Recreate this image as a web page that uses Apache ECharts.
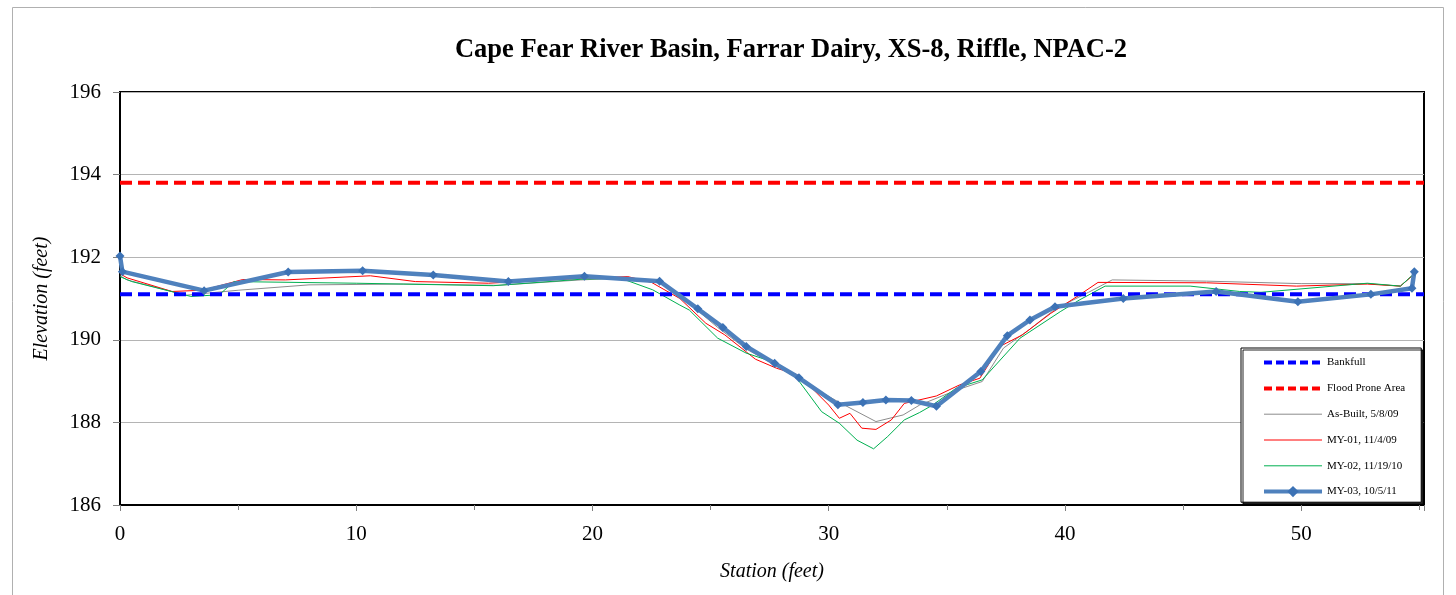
<!DOCTYPE html>
<html>
<head>
<meta charset="utf-8">
<script src="https://cdn.jsdelivr.net/npm/echarts@6/dist/echarts.min.js"></script>
<style>
html,body{margin:0;padding:0;background:#fff;}
#chart{width:1456px;height:595px;}
</style>
</head>
<body>
<div id="chart"></div>
<script>
const titleText = 'Cape Fear River Basin, Farrar Dairy, XS-8, Riffle, NPAC-2';
const xTickLabels = [0, 10, 20, 30, 40, 50];
const yTickLabels = [186, 188, 190, 192, 194, 196];

const bankfullStation = [0, 55.2];
const bankfullElev = [191.1, 191.1];

const floodStation = [0, 55.2];
const floodElev = [193.8, 193.8];

const asBuiltStation = [0, 0.3, 2.8, 5.0, 8.0, 12.0, 16.0, 19.5, 21.5, 22.8, 24.1, 25.3, 26.5, 27.7, 28.8, 30.4, 32.0, 33.15, 33.85, 35.4, 36.5, 37.4, 38.5, 39.6, 41.0, 42.0, 46.0, 50.0, 52.8, 54.2, 54.8];
const asBuiltElev = [191.55, 191.45, 191.08, 191.2, 191.33, 191.35, 191.32, 191.45, 191.5, 191.4, 190.88, 190.3, 189.78, 189.4, 189.02, 188.5, 188.02, 188.18, 188.42, 188.78, 188.99, 189.8, 190.25, 190.75, 191.15, 191.45, 191.42, 191.36, 191.36, 191.3, 191.6];

const my01Station = [0, 0.3, 2.2, 3.5, 5.2, 7.0, 10.6, 12.5, 15.6, 19.6, 21.5, 22.5, 23.7, 24.8, 25.6, 26.9, 27.8, 28.6, 28.8, 30.0, 30.45, 30.9, 31.4, 32.0, 32.65, 33.2, 34.56, 35.55, 36.4, 37.25, 38.2, 39.4, 40.6, 41.4, 46.0, 49.8, 52.8, 54.2, 54.8];
const my01Elev = [191.6, 191.5, 191.17, 191.2, 191.46, 191.45, 191.55, 191.41, 191.37, 191.49, 191.53, 191.39, 191.0, 190.4, 190.12, 189.53, 189.31, 189.17, 189.11, 188.42, 188.1, 188.22, 187.86, 187.83, 188.06, 188.46, 188.64, 188.91, 189.07, 189.84, 190.12, 190.64, 191.08, 191.39, 191.38, 191.3, 191.35, 191.3, 191.6];

const my02Station = [0, 0.5, 3.0, 4.2, 4.83, 10.0, 15.8, 19.6, 21.2, 22.55, 23.7, 24.1, 25.3, 26.5, 27.6, 28.6, 29.7, 30.45, 31.2, 31.9, 32.5, 33.2, 33.85, 34.4, 35.4, 36.5, 38.1, 39.8, 40.6, 41.7, 45.3, 47.4, 48.3, 52.8, 54.2, 54.8];
const my02Elev = [191.53, 191.41, 191.05, 191.09, 191.41, 191.37, 191.31, 191.47, 191.49, 191.21, 190.84, 190.72, 190.04, 189.68, 189.47, 189.11, 188.26, 187.98, 187.57, 187.36, 187.66, 188.06, 188.24, 188.42, 188.83, 189.03, 190.04, 190.68, 190.96, 191.3, 191.3, 191.17, 191.15, 191.37, 191.3, 191.61];

const my03Station = [0, 0.1, 3.56, 7.12, 10.27, 13.26, 16.44, 19.66, 22.84, 24.46, 25.52, 26.51, 27.71, 28.74, 30.39, 31.45, 32.42, 33.5, 34.56, 36.44, 37.56, 38.52, 39.58, 42.47, 46.4, 49.86, 52.95, 54.69, 54.79];
const my03Elev = [192.03, 191.65, 191.19, 191.64, 191.67, 191.57, 191.41, 191.54, 191.42, 190.75, 190.3, 189.84, 189.43, 189.08, 188.43, 188.48, 188.54, 188.53, 188.39, 189.23, 190.1, 190.48, 190.8, 191.0, 191.17, 190.92, 191.1, 191.25, 191.65];

function zip(xs, ys) { return xs.map((x, i) => [x, ys[i]]); }

const serif = '"Liberation Serif", "DejaVu Serif", serif';
const chart = echarts.init(document.getElementById('chart'), null, {renderer: 'canvas'});

const noMarker = {opacity: 0};

chart.setOption({
  backgroundColor: '#ffffff',
  animation: false,
  graphic: [{
    type: 'rect', z: -10,
    shape: {x: 12.5, y: 7.5, width: 1431, height: 600},
    style: {fill: 'none', stroke: '#b0b0b0', lineWidth: 1}
  }],
  title: {
    text: titleText,
    left: 786, top: 32, textAlign: 'center',
    textStyle: {fontFamily: serif, fontWeight: 'bold', fontSize: 26.5, color: '#000'}
  },
  grid: {
    left: 120, right: 32, top: 92, bottom: 90,
    show: true, borderColor: '#000', borderWidth: 2, backgroundColor: 'transparent'
  },
  legend: {
    orient: 'vertical',
    left: 1241, top: 348,
    itemWidth: 58, itemHeight: 14, itemGap: 14.6,
    padding: [9, 16, 5, 21],
    backgroundColor: '#fff',
    borderColor: '#000', borderWidth: 1,
    shadowColor: 'rgba(0,0,0,0.85)', shadowOffsetX: 2, shadowOffsetY: 2, shadowBlur: 0,
    textStyle: {fontFamily: serif, fontSize: 11, color: '#000'},
    data: [
      {name: 'Bankfull', itemStyle: noMarker, lineStyle: {width: 4, type: [8, 4]}},
      {name: 'Flood Prone Area', itemStyle: noMarker, lineStyle: {width: 4, type: [8, 4]}},
      {name: 'As-Built, 5/8/09', itemStyle: noMarker, lineStyle: {width: 1}},
      {name: 'MY-01, 11/4/09', itemStyle: noMarker, lineStyle: {width: 1}},
      {name: 'MY-02, 11/19/10', itemStyle: noMarker, lineStyle: {width: 1}},
      {name: 'MY-03, 10/5/11', lineStyle: {width: 4}}
    ]
  },
  xAxis: {
    type: 'value', min: 0, max: 55.2, interval: 10,
    name: 'Station (feet)', nameLocation: 'middle', nameGap: 57,
    nameTextStyle: {fontFamily: serif, fontStyle: 'italic', fontSize: 20, color: '#000'},
    axisLine: {show: true, onZero: false, lineStyle: {color: '#000', width: 2}},
    axisTick: {show: true, length: 6, lineStyle: {color: '#808080'}},
    minorTick: {show: true, splitNumber: 2, length: 5, lineStyle: {color: '#808080'}},
    axisLabel: {
      fontFamily: serif, fontSize: 21, color: '#000', margin: 19, showMaxLabel: false,
      formatter: v => (xTickLabels.indexOf(v) >= 0 ? String(v) : '')
    },
    splitLine: {show: false}
  },
  yAxis: {
    type: 'value', min: 186, max: 196, interval: 2,
    name: 'Elevation (feet)', nameLocation: 'middle', nameGap: 68,
    nameTextStyle: {fontFamily: serif, fontStyle: 'italic', fontSize: 20, color: '#000'},
    axisLine: {show: true, onZero: false, lineStyle: {color: '#000', width: 2}},
    axisTick: {show: true, length: 7, lineStyle: {color: '#808080'}},
    axisLabel: {
      fontFamily: serif, fontSize: 21, color: '#000', margin: 19,
      formatter: v => (yTickLabels.indexOf(v) >= 0 ? String(v) : '')
    },
    splitLine: {show: true, lineStyle: {color: '#b4b4b4', width: 1}}
  },
  series: [
    {
      name: 'Bankfull', type: 'line', data: zip(bankfullStation, bankfullElev),
      symbol: 'none', z: 5,
      lineStyle: {color: '#0000ff', width: 4, type: [12, 6]},
      itemStyle: {color: '#0000ff'}
    },
    {
      name: 'Flood Prone Area', type: 'line', data: zip(floodStation, floodElev),
      symbol: 'none', z: 5,
      lineStyle: {color: '#ff0000', width: 4, type: [12, 6]},
      itemStyle: {color: '#ff0000'}
    },
    {
      name: 'As-Built, 5/8/09', type: 'line', data: zip(asBuiltStation, asBuiltElev),
      symbol: 'none', z: 3,
      lineStyle: {color: '#8c8c8c', width: 1},
      itemStyle: {color: '#8c8c8c'}
    },
    {
      name: 'MY-01, 11/4/09', type: 'line', data: zip(my01Station, my01Elev),
      symbol: 'none', z: 4,
      lineStyle: {color: '#ff0000', width: 1},
      itemStyle: {color: '#ff0000'}
    },
    {
      name: 'MY-02, 11/19/10', type: 'line', data: zip(my02Station, my02Elev),
      symbol: 'none', z: 4,
      lineStyle: {color: '#00b050', width: 1},
      itemStyle: {color: '#00b050'}
    },
    {
      name: 'MY-03, 10/5/11', type: 'line', data: zip(my03Station, my03Elev),
      symbol: 'diamond', symbolSize: 9, showSymbol: true, z: 6,
      lineStyle: {color: '#4f81bd', width: 4.5},
      itemStyle: {color: '#3c72b5', borderWidth: 0}
    }
  ]
});
</script>
</body>
</html>
